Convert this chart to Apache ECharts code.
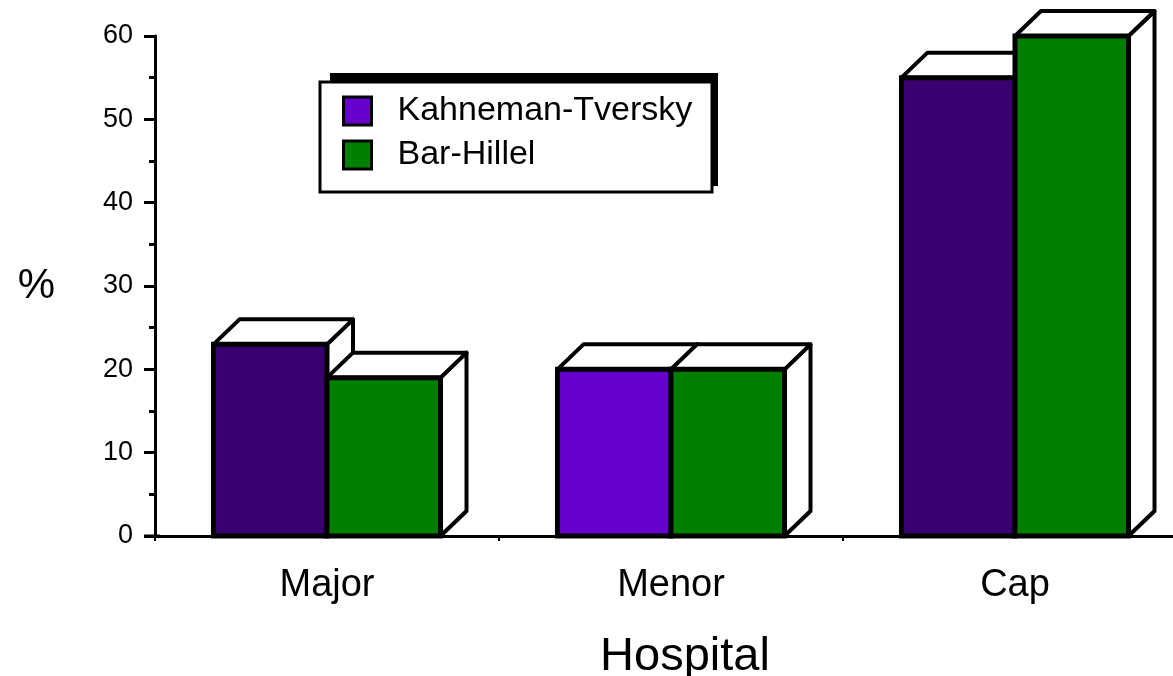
<!DOCTYPE html>
<html lang="en">
<head>
    <meta charset="UTF-8">
    <title>Hospital</title>
    <script src="https://cdn.jsdelivr.net/npm/echarts@6/dist/echarts.min.js"></script>
    <style>
        body { margin: 0; background: #fff; }
        #chart { width: 1173px; height: 676px; }
    </style>
</head>
<body>
<div id="chart"></div>
<script type="text/javascript">

    let categories = ['Major', 'Menor', 'Cap'];
    let seriesNames = ['Kahneman-Tversky', 'Bar-Hillel'];
    let ktValues = [23, 20, 55];
    let bhValues = [19, 20, 60];
    let ktColors = ['#3b006f', '#6600cc', '#3b006f'];
    let bhColor = '#008000';

    let myChart = echarts.init(document.getElementById('chart'));

    // 3D looking bar: side + top faces in white, front face coloured
    function makeRender(offset, colorOf) {
        return function (params, api) {
            let idx = api.value(0);
            let base = api.coord([idx, 0]);
            let top = api.coord([idx, api.value(1)]);
            let band = api.size([1, 0])[0];
            let w = band * 0.33;
            let x0 = base[0] + offset * w;
            let x1 = x0 + w;
            let yb = base[1], yt = top[1];
            let dx = 26, dy = 25;
            let line = {stroke: '#000', lineWidth: 4, lineJoin: 'round', fill: '#fff'};
            return {
                type: 'group',
                children: [
                    {
                        type: 'polygon',
                        shape: {points: [[x1, yt], [x1 + dx, yt - dy], [x1 + dx, yb - dy], [x1, yb]]},
                        style: line
                    },
                    {
                        type: 'polygon',
                        shape: {points: [[x0, yt], [x1, yt], [x1 + dx, yt - dy], [x0 + dx, yt - dy]]},
                        style: line
                    },
                    {
                        type: 'rect',
                        shape: {x: x0, y: yt, width: w, height: yb - yt},
                        style: {fill: colorOf(idx), stroke: '#000', lineWidth: 5}
                    }
                ]
            };
        };
    }

    let option = {
        animation: false,
        grid: {left: 155, right: -14, top: 36, bottom: 140, outerBoundsMode: 'none', containLabel: false},
        graphic: [
            {type: 'rect', shape: {x: 330, y: 73, width: 388, height: 113}, style: {fill: '#000'}, z: 10},
            {type: 'rect', shape: {x: 320, y: 82, width: 392, height: 110}, style: {fill: '#fff', stroke: '#000', lineWidth: 3}, z: 11},
            {type: 'line', shape: {x1: 144, y1: 536, x2: 160, y2: 536}, style: {stroke: '#000', lineWidth: 3}, z: 12}
        ],
        legend: {
            orient: 'vertical',
            left: 322,
            top: 83,
            z: 20,
            padding: [11, 10, 10, 20],
            itemWidth: 28,
            itemHeight: 28,
            itemGap: 10,
            icon: 'rect',
            itemStyle: {borderColor: '#000', borderWidth: 3},
            textStyle: {fontFamily: 'Liberation Sans', fontSize: 34, color: '#000', padding: [0, 0, 0, 21]},
            data: seriesNames
        },
        xAxis: {
            type: 'category',
            data: categories,
            axisLine: {lineStyle: {color: '#000', width: 3}},
            axisTick: {show: true, length: 5, lineStyle: {color: '#000', width: 2}},
            axisLabel: {fontFamily: 'Liberation Sans', fontSize: 38, color: '#000', margin: 31},
            name: 'Hospital',
            nameLocation: 'center',
            nameGap: 98,
            nameTextStyle: {fontFamily: 'Liberation Sans', fontSize: 47, color: '#000', padding: [0, 0, 0, 28]}
        },
        yAxis: {
            type: 'value',
            min: 0,
            max: 60,
            interval: 10,
            splitLine: {show: false},
            axisLine: {show: true, lineStyle: {color: '#000', width: 3}},
            axisTick: {show: true, length: 11, lineStyle: {color: '#000', width: 3}},
            minorTick: {show: true, splitNumber: 2, length: 6, lineStyle: {color: '#000', width: 3}},
            axisLabel: {fontFamily: 'Liberation Sans', fontSize: 27, color: '#000', margin: 22},
            name: '%',
            nameLocation: 'middle',
            nameRotate: 0,
            nameGap: 100,
            nameTextStyle: {fontFamily: 'Liberation Sans', fontSize: 42, color: '#000', padding: [0, 0, 22, 0]}
        },
        series: [
            {
                name: seriesNames[0],
                type: 'custom',
                clip: false,
                itemStyle: {color: '#6600cc'},
                renderItem: makeRender(-1, function (i) { return ktColors[i]; }),
                encode: {x: 0, y: 1},
                data: categories.map(function (c, i) { return [i, ktValues[i]]; })
            },
            {
                name: seriesNames[1],
                type: 'custom',
                clip: false,
                itemStyle: {color: bhColor},
                renderItem: makeRender(0, function () { return bhColor; }),
                encode: {x: 0, y: 1},
                data: categories.map(function (c, i) { return [i, bhValues[i]]; })
            }
        ]
    };
    myChart.setOption(option);

</script>
</body>
</html>
